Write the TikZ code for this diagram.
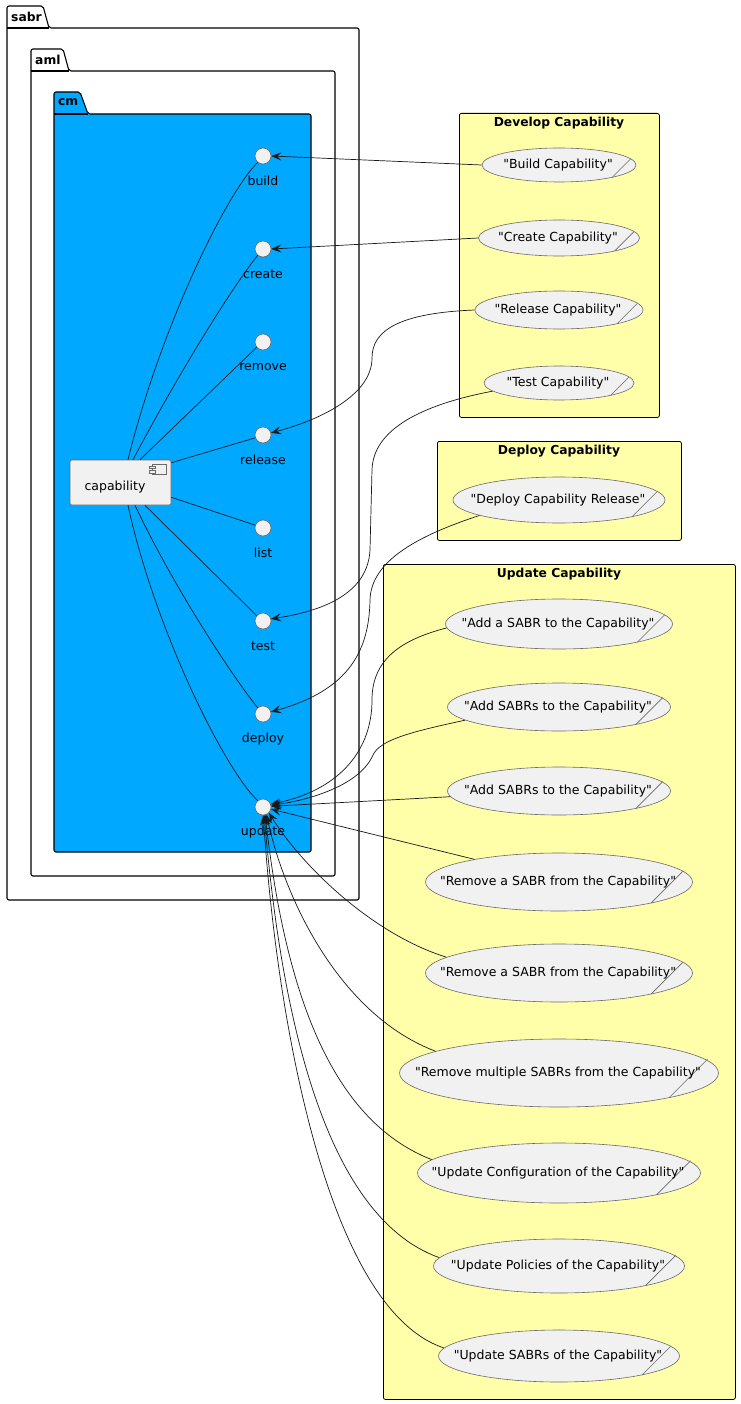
\documentclass[tikz,border=0pt]{standalone}
\usepackage{fontspec}
\setmainfont{DejaVu Sans}[Ligatures=TeXOff]
\usetikzlibrary{shapes.geometric,arrows.meta}
\definecolor{cmblue}{RGB}{0,168,255}
\definecolor{ucfill}{RGB}{241,241,241}
\definecolor{grpyellow}{RGB}{255,255,170}
\definecolor{edgecol}{RGB}{24,24,24}
\definecolor{ucborder}{RGB}{105,105,105}
\newcommand\bizmark[4]{\draw[ucborder,line width=0.6pt] ({#1+0.69*#3},{#2+0.724*#4}) -- ++({0.24*#3},{-0.24*#3});}
\begin{document}
\begin{tikzpicture}[x=1pt,y=-1pt,
  font=\fontsize{12.5}{14}\selectfont,
  uc/.style={ellipse,draw=ucborder,fill=ucfill,line width=0.6pt,inner sep=0pt},
  ifc/.style={circle,draw=ucborder,fill=ucfill,minimum size=16pt,inner sep=0pt,line width=0.6pt},
  lbl/.style={inner sep=0pt},
  ttl/.style={inner sep=0pt,font=\bfseries\fontsize{12.3}{14}\selectfont},
  pkg/.style={draw=black,line width=1.1pt,rounded corners=2pt},
  grp/.style={draw=black,fill=grpyellow,line width=0.8pt,rounded corners=2pt,anchor=north west,inner sep=0pt},
  conn/.style={draw=edgecol,line width=0.7pt},
  arr/.style={conn,-{Stealth[length=10pt,width=8pt,inset=4pt]}}]
\useasboundingbox (0,0) rectangle (740,1404);
\fill[white] (0,0) rectangle (740,1404);
% packages
\draw[pkg,fill=white] (7,28) -- (7,6) -- (43,6) -- (49,28) -- (359,28) -- (359,900) -- (7,900) -- cycle;
\draw[line width=1.1pt] (7,28) -- (49,28);
\node[ttl,anchor=west] (psabr) at (11,16.5) {sabr};
\draw[pkg,fill=white] (31,71) -- (31,49) -- (63,49) -- (69,71) -- (335,71) -- (335,876) -- (31,876) -- cycle;
\draw[line width=1.1pt] (31,71) -- (69,71);
\node[ttl,anchor=west] (paml) at (35,59.5) {aml};
\draw[pkg,fill=cmblue] (54,114) -- (54,92) -- (80,92) -- (88,114) -- (311,114) -- (311,852) -- (54,852) -- cycle;
\draw[line width=1.1pt] (54,114) -- (88,114);
\node[ttl,anchor=west] (pcm) at (58,102.5) {cm};
% groups
\node[grp,minimum width=200pt,minimum height=304pt] (gdev) at (459,113) {};
\node[ttl] (tdev) at (559,123.5) {Develop Capability};
\node[grp,minimum width=244pt,minimum height=99pt] (gdep) at (437,441) {};
\node[ttl] (tdep) at (559,451.5) {Deploy Capability};
\node[grp,minimum width=352pt,minimum height=835pt] (gupd) at (383,564) {};
\node[ttl] (tupd) at (559,574.5) {Update Capability};
% component
\node[draw=ucborder,fill=ucfill,line width=0.6pt,rounded corners=2pt,minimum width=101pt,minimum height=45pt,inner sep=0pt] (comp) at (120.5,482.5) {};
\node[lbl] (complbl) at (115,487) {capability};
\draw[ucborder,line width=0.6pt,fill=ucfill] (152,464) rectangle (166,474);
\draw[ucborder,line width=0.6pt,fill=ucfill] (149,466) rectangle (155,468.5);
\draw[ucborder,line width=0.6pt,fill=ucfill] (149,470.5) rectangle (155,473);
% interfaces
\foreach \n/\t/\yy in {ibuild/build/156,icreate/create/249,iremove/remove/342,irelease/release/435,ilist/list/528,itest/test/621,ideploy/deploy/714,iupdate/update/807}{
  \node[ifc] (\n) at (263,\yy) {};
  \node[lbl] (l\n) at (263,\yy+25) {\t};
}
% component links
\draw[conn] ([xshift=7.5pt]comp.north) .. controls (160,330) and (225,195) .. (ibuild.230);
\draw[conn] ([xshift=12.5pt]comp.north) .. controls (175,380) and (230,290) .. (icreate.230);
\draw[conn] ([xshift=19.5pt]comp.north) -- (iremove.220);
\draw[conn] ([yshift=-3pt]comp.north east) -- (irelease.200);
\draw[conn] ([yshift=8pt]comp.south east) -- (ilist.160);
\draw[conn] ([xshift=24.5pt]comp.south) -- (itest.140);
\draw[conn] ([xshift=14.5pt]comp.south) .. controls (175,590) and (235,680) .. (ideploy.130);
\draw[conn] ([xshift=7.5pt]comp.south) .. controls (155,630) and (225,770) .. (iupdate.130);
% use cases: ellipse + label
\foreach \n/\yy/\w/\h/\t in {
  ucbuild/165/154/34/{"Build Capability"},
  uccreate/238/161/36/{"Create Capability"},
  ucrelease/310/168/38/{"Release Capability"},
  uctest/383/150/34/{"Test Capability"},
  ucdeploy/500/212/46/{"Deploy Capability Release"},
  ucadd1/624/227/50/{"Add a SABR to the Capability"},
  ucadd2/707/223/48/{"Add SABRs to the Capability"},
  ucadd3/791/223/48/{"Add SABRs to the Capability"},
  ucrem1/882/267/58/{"Remove a SABR from the Capability"},
  ucrem2/973/267/58/{"Remove a SABR from the Capability"},
  ucremm/1073/319/68/{"Remove multiple SABRs from the Capability"},
  uccfg/1173/283/60/{"Update Configuration of the Capability"},
  ucpol/1266/251/54/{"Update Policies of the Capability"},
  ucsabrs/1356/241/52/{"Update SABRs of the Capability"}}{
  \node[uc,minimum width=\w pt,minimum height=\h pt] (\n) at (559,\yy) {};
  \bizmark{559}{\yy}{\w/2}{\h/2}
  \node[lbl] (t\n) at (558,\yy) {\t};
}
% use case links
\draw[arr] (ucbuild.west) -- (ibuild.east);
\draw[arr] (uccreate.west) -- (icreate.east);
\draw[arr] (ucrelease.west) .. controls (400,313) and (372,330) .. (372,358) .. controls (372,395) and (320,420) .. (irelease.15);
\draw[arr] (uctest.187) .. controls (420,405) and (373,430) .. (372,470) -- (370,550) .. controls (368,590) and (330,610) .. (itest.15);
\draw[arr] (ucdeploy.191) .. controls (420,535) and (371,560) .. (370,600) .. controls (369,650) and (350,690) .. (ideploy.15);
\draw[arr] (ucadd1.182) .. controls (400,640) and (372,660) .. (372,700) .. controls (372,750) and (340,790) .. (iupdate.20);
\draw[arr] (ucadd2.188) .. controls (410,732) and (380,740) .. (373,755) .. controls (360,785) and (310,800) .. (iupdate.12);
\draw[arr] (ucadd3.183.6) -- (iupdate.5);
\draw[arr] (ucrem1.165) -- (iupdate.-15);
\draw[arr] (ucrem2.172) .. controls (375,935) and (305,870) .. (iupdate.-45);
\draw[arr] (ucremm.170) .. controls (340,1015) and (285,900) .. (iupdate.-65);
\draw[arr] (uccfg.174) .. controls (330,1120) and (285,990) .. (iupdate.-75);
\draw[arr] (ucpol.176) .. controls (320,1215) and (280,1000) .. (iupdate.-82);
\draw[arr] (ucsabrs.176) .. controls (323,1308) and (275,1000) .. (iupdate.-88);
\end{tikzpicture}
\end{document}
